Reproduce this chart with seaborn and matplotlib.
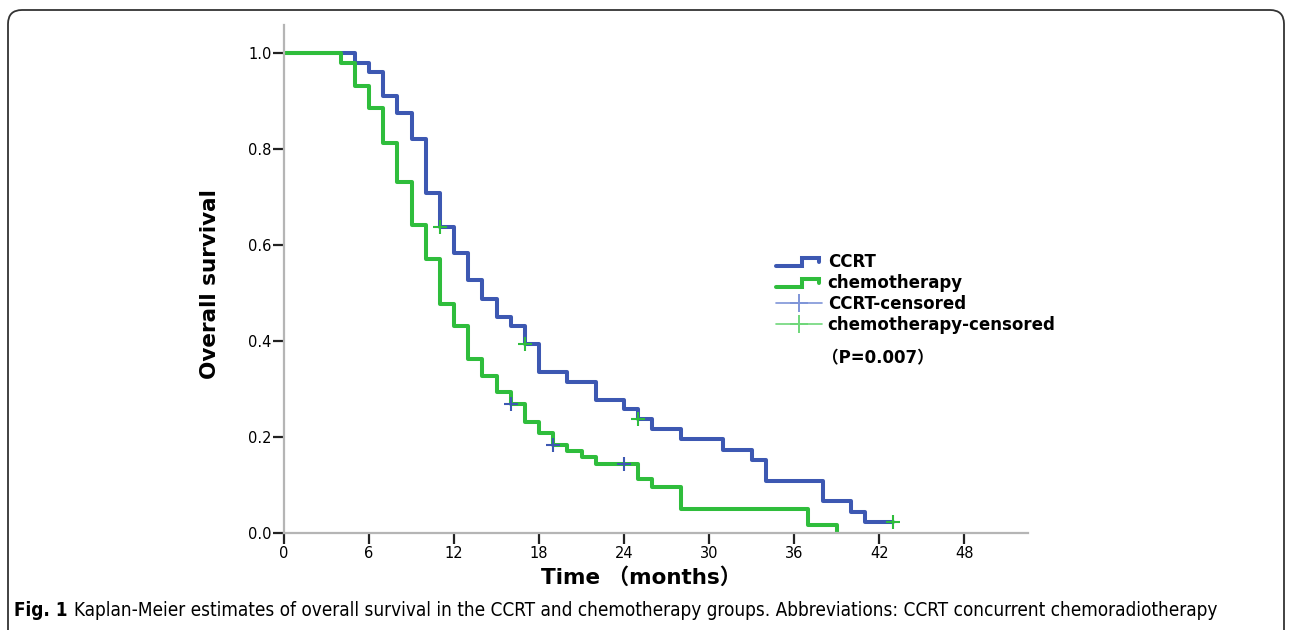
import matplotlib.pyplot as plt
from matplotlib.lines import Line2D
from matplotlib.legend_handler import HandlerBase
from matplotlib.patches import FancyBboxPatch
from matplotlib.transforms import IdentityTransform
import numpy as np
import pandas as pd
import seaborn as sns

# Kaplan-Meier steps (months, survival after the step)
ccrt_time = [0, 5, 6, 7, 8, 9, 10, 11, 12, 13, 14, 15, 16, 17, 18, 20, 22, 24,
             25, 26, 28, 31, 33, 34, 38, 40, 41, 43]
ccrt_surv = [1.0, 0.979, 0.960, 0.910, 0.875, 0.821, 0.708, 0.638, 0.583, 0.527,
             0.488, 0.450, 0.431, 0.394, 0.335, 0.315, 0.277, 0.258, 0.237, 0.216,
             0.195, 0.173, 0.152, 0.109, 0.066, 0.044, 0.022, 0.022]
chemo_time = [0, 4, 5, 6, 7, 8, 9, 10, 11, 12, 13, 14, 15, 16, 17, 18, 19, 20,
              21, 22, 25, 26, 28, 37, 39]
chemo_surv = [1.0, 0.979, 0.930, 0.885, 0.812, 0.732, 0.641, 0.571, 0.477, 0.432,
              0.362, 0.326, 0.294, 0.268, 0.232, 0.208, 0.183, 0.171, 0.158, 0.143,
              0.112, 0.096, 0.050, 0.016, 0.0]

# censor marks (the picture draws them in the other group's colour)
ccrt_cens_time = [11, 17, 25, 43]
ccrt_cens_surv = [0.638, 0.394, 0.237, 0.022]
chemo_cens_time = [16, 19, 24]
chemo_cens_surv = [0.268, 0.183, 0.143]

x_ticks = [0, 6, 12, 18, 24, 30, 36, 42, 48]
y_ticks = [0.0, 0.2, 0.4, 0.6, 0.8, 1.0]

blue = '#3d58b2'
green = '#2fbd3c'

sns.set_style("white")
plt.rcParams['font.family'] = ['DejaVu Sans', 'Noto Sans CJK SC']
plt.rcParams['text.color'] = 'black'
plt.rcParams['axes.labelcolor'] = 'black'
plt.rcParams['xtick.color'] = 'black'
plt.rcParams['ytick.color'] = 'black'

df = pd.DataFrame({
    'time': ccrt_time + chemo_time,
    'surv': ccrt_surv + chemo_surv,
    'group': ['CCRT'] * len(ccrt_time) + ['chemotherapy'] * len(chemo_time),
})

fig = plt.figure(figsize=(12.92, 6.30), dpi=100)
ax = fig.add_axes([284 / 1292, 97 / 630, 744 / 1292, 508 / 630])

sns.lineplot(data=df, x='time', y='surv', hue='group',
             palette={'CCRT': blue, 'chemotherapy': green},
             drawstyle='steps-post', estimator=None, linewidth=2.9,
             legend=False, ax=ax)
sns.scatterplot(x=ccrt_cens_time, y=ccrt_cens_surv, marker='+', s=110,
                color=green, linewidth=1.5, ax=ax, zorder=5)
sns.scatterplot(x=chemo_cens_time, y=chemo_cens_surv, marker='+', s=110,
                color=blue, linewidth=1.5, ax=ax, zorder=5)

ax.set_xlim(0, 52.5)
ax.set_ylim(0, 1.058)
ax.set_xticks(x_ticks)
ax.set_yticks(y_ticks)
ax.set_yticklabels([f'{v:.1f}' for v in y_ticks])
for s in ['top', 'right']:
    ax.spines[s].set_visible(False)
for s in ['left', 'bottom']:
    ax.spines[s].set_color('#b5b5b5')
    ax.spines[s].set_linewidth(1.6)
ax.tick_params(axis='both', direction='out', length=8, width=1.6,
               color='#222222', labelsize=10.5, pad=1, left=True, bottom=True)

ax.set_xlabel('Time \uff08months\uff09', fontsize=15.5, fontweight='bold')
ax.xaxis.set_label_coords(0.48, -0.088)
ax.xaxis.label.set_va('center')
ax.set_ylabel('Overall survival', fontsize=15.5, fontweight='bold')
ax.yaxis.set_label_coords(-0.1, 0.49)
ax.yaxis.label.set_va('center')


class StepHandler(HandlerBase):
    def create_artists(self, legend, orig_handle, xdescent, ydescent,
                       width, height, fontsize, trans):
        x = np.array([0, 0.56, 0.56, 0.94, 0.94]) * width - xdescent
        y = np.array([0.1, 0.1, 0.8, 0.8, 0.4]) * height - ydescent
        line = Line2D(x, y, color=orig_handle.get_color(),
                      lw=orig_handle.get_linewidth(), solid_joinstyle='miter')
        line.set_transform(trans)
        return [line]


h_ccrt = Line2D([], [], color=blue, lw=2.9)
h_chemo = Line2D([], [], color=green, lw=2.9)
h_ccrt_c = Line2D([], [], color='#7f95d8', lw=1.2, marker='+', markersize=13,
                  markeredgewidth=1.4)
h_chemo_c = Line2D([], [], color='#6fd77a', lw=1.2, marker='+', markersize=13,
                   markeredgewidth=1.4)
leg = ax.legend([h_ccrt, h_chemo, h_ccrt_c, h_chemo_c],
                ['CCRT', 'chemotherapy', 'CCRT-censored', 'chemotherapy-censored'],
                handler_map={h_ccrt: StepHandler(), h_chemo: StepHandler()},
                loc='upper left', bbox_to_anchor=(776 / 1292, 1 - 253 / 630),
                bbox_transform=fig.transFigure, frameon=False, borderpad=0,
                borderaxespad=0, handlelength=2.75, handletextpad=0.35,
                labelspacing=0.18, prop={'size': 12, 'weight': 'bold'})

fig.text(822 / 1292, 1 - 358 / 630, '\uff08P=0.007\uff09', fontsize=12,
         fontweight='bold', ha='left', va='center')

# caption
cap_font = dict(fontsize=13.6, fontstretch='condensed', va='center')
t1 = fig.text(14 / 1292, 20 / 630, 'Fig. 1', fontweight='bold', **cap_font)
fig.canvas.draw()
bb = t1.get_window_extent()
fig.text((bb.x1 + 6) / 1292, 20 / 630,
         'Kaplan-Meier estimates of overall survival in the CCRT and chemotherapy '
         'groups. Abbreviations: CCRT concurrent chemoradiotherapy', **cap_font)

# outer rounded frame
frame = FancyBboxPatch((8, -30), 1276, 650, boxstyle='round,pad=0,rounding_size=14',
                       transform=IdentityTransform(), facecolor='none',
                       edgecolor='#333333', linewidth=1.3)
fig.add_artist(frame)

fig.savefig('out.png', dpi=100)
